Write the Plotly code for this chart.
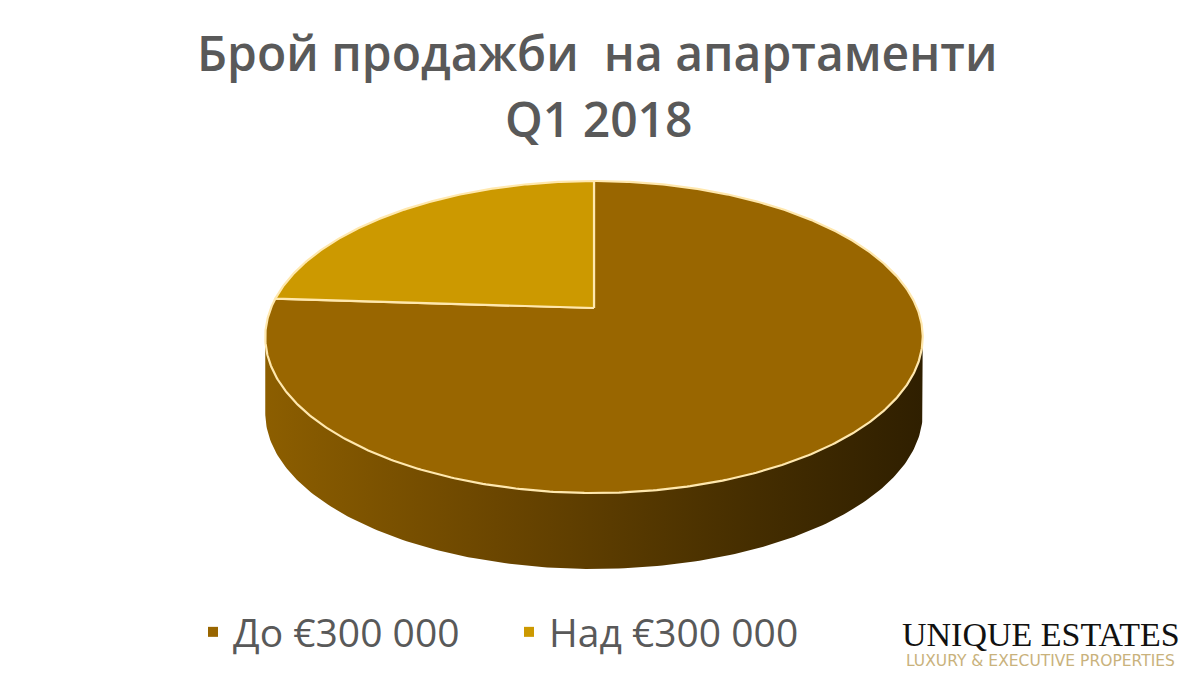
import math
import numpy as np
import plotly.graph_objects as go

# ---- data ----
categories = ["До €300 000", "Над €300 000"]
values = [76, 24]
colors = ["#996600", "#CC9900"]
title_lines = ["Брой продажби  на апартаменти", "Q1 2018"]
logo_main = "UNIQUE ESTATES"
logo_sub = "LUXURY &amp; EXECUTIVE PROPERTIES"

# ---- layout / geometry (style) ----
W, H = 1200, 684
OFF = 8                    # page body margin compensation
cx, cy = 594, 308          # projected pie centre (page pixels)
Rx, Ry = 323, 150.6        # radii
p = 0.186                  # perspective factor
depth = 76                 # side thickness
edge = "#FFE8AE"


def px(x):
    return (x - OFF) / W


def py(y):
    return 1 - (y - OFF) / H


def proj(theta_deg, dz=0.0):
    t = np.radians(theta_deg)
    u = -np.sin(t)
    v = np.cos(t)
    d = 1 + p * v
    return cx + Rx * u / d, cy - Ry * v / d + dz


fig = go.Figure()

# side of the cylinder (front half)
th_l = 90 + math.degrees(math.asin(p))
th_r = 270 - math.degrees(math.asin(p))
front = np.linspace(th_l, th_r, 200)
xt, yt = proj(front)
xb, yb = proj(front[::-1], depth)
fig.add_trace(go.Scatter(
    x=np.concatenate([xt, xb, xt[:1]]), y=np.concatenate([yt, yb, yt[:1]]),
    mode="lines", fill="toself", line=dict(width=0),
    fillgradient=dict(type="horizontal",
                      colorscale=[[0, "#8c5e00"], [0.35, "#6b4600"], [0.75, "#442d00"], [1, "#2f1f00"]]),
    hoverinfo="skip", showlegend=False))

# top slices: first category clockwise from 12 o'clock, next continues
total = sum(values)
start = 0.0
spans = []
for val in values:
    ang = 360.0 * val / total
    spans.append((start, start - ang))
    start -= ang

for i, (a0, a1) in enumerate(spans):
    n = max(8, int(abs(a1 - a0) * 2))
    th = np.linspace(a0, a1, n)
    xs, ys = proj(th)
    x = np.concatenate([[cx], xs, [cx]])
    y = np.concatenate([[cy], ys, [cy]])
    fig.add_trace(go.Scatter(
        x=x, y=y, mode="lines", fill="toself", fillcolor=colors[i],
        line=dict(color=edge, width=2.2), hoverinfo="skip", showlegend=False))

# legend entries
for name, col in zip(categories, colors):
    fig.add_trace(go.Scatter(x=[None], y=[None], mode="markers", name=name,
                             marker=dict(symbol="square", size=10, color=col)))

title_font = dict(family="Open Sans", size=48, color="#595959", weight=600)
fig.add_annotation(x=px(597), y=py(52), xref="paper", yref="paper", text=title_lines[0],
                   xanchor="center", yanchor="middle", showarrow=False, font=title_font)
fig.add_annotation(x=px(598), y=py(118), xref="paper", yref="paper", text=title_lines[1],
                   xanchor="center", yanchor="middle", showarrow=False, font=title_font)

fig.add_annotation(x=px(1041), y=py(634), xref="paper", yref="paper", text=logo_main,
                   xanchor="center", yanchor="middle", showarrow=False,
                   font=dict(family="Liberation Serif", size=34, color="#111111"))
fig.add_annotation(x=px(1040), y=py(661), xref="paper", yref="paper", text=logo_sub,
                   xanchor="center", yanchor="middle", showarrow=False,
                   font=dict(family="DejaVu Sans", size=15.5, color="#C9B27C"))

fig.update_layout(
    width=W, height=H, margin=dict(l=0, r=0, t=0, b=0),
    paper_bgcolor="white", plot_bgcolor="white",
    xaxis=dict(range=[OFF, W + OFF], visible=False, fixedrange=True),
    yaxis=dict(range=[H + OFF, OFF], visible=False, fixedrange=True),
    showlegend=True,
    legend=dict(orientation="h", x=px(193), y=py(632), yanchor="middle", xanchor="left",
                font=dict(family="Open Sans", size=39, color="#595959"),
                entrywidth=271, entrywidthmode="pixels", bgcolor="rgba(0,0,0,0)"),
)

fig.write_html("out.html")
